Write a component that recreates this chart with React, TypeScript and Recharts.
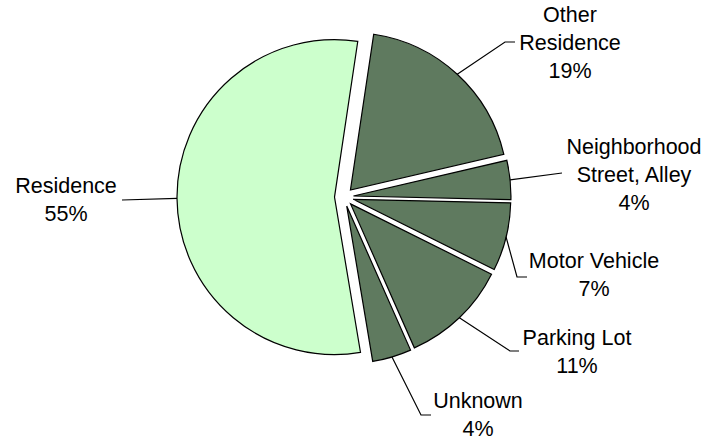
import React from 'react';
import { PieChart, Pie, Cell, Sector } from 'recharts';

const categories = ['Other\nResidence', 'Neighborhood\nStreet, Alley', 'Motor Vehicle', 'Parking Lot', 'Unknown', 'Residence'];
const shares = [19, 4, 7, 11, 4, 55];
const sliceColors = ['#5F7A5F', '#5F7A5F', '#5F7A5F', '#5F7A5F', '#5F7A5F', '#CCFFCC'];

// label placement (text centre x, first baseline y) and leader-line bend points
const labelTextX = [570, 634, 594, 577, 478, 66];
const labelTextY = [22, 154, 268, 345, 408, 193];
const leaderBends = [
  [[505, 42], [515, 42]],
  [[562, 173]],
  [[517, 277], [527, 277]],
  [[510, 351], [519, 351]],
  [[421, 415], [431, 415]],
  [[122, 200]],
];

const data = categories.map((name, i) => ({ name, value: shares[i] }));

const EXPLODE = 9.5;
const RAD = Math.PI / 180;

const renderShape = (props: any) => {
  const { cx, cy, midAngle } = props;
  const ox = cx + EXPLODE * Math.cos(-midAngle * RAD);
  const oy = cy + EXPLODE * Math.sin(-midAngle * RAD);
  return <Sector {...props} cx={ox} cy={oy} />;
};

const renderLabel = (props: any) => {
  const { cx, cy, midAngle, outerRadius, index, value, name } = props;
  const r = outerRadius + EXPLODE;
  const sx = cx + r * Math.cos(-midAngle * RAD);
  const sy = cy + r * Math.sin(-midAngle * RAD);
  const pts = [[sx, sy], ...leaderBends[index]].map((p) => p.join(',')).join(' ');
  const lines = [...String(name).split('\n'), `${value}%`];
  return (
    <g key={`lbl-${index}`}>
      <polyline points={pts} fill="none" stroke="#000" strokeWidth={1.2} />
      <text
        x={labelTextX[index]}
        y={labelTextY[index]}
        textAnchor="middle"
        fontFamily="'Liberation Sans', Arial, sans-serif"
        fontSize={21.5}
        fill="#000"
      >
        {lines.map((ln, i) => (
          <tspan key={i} x={labelTextX[index]} dy={i === 0 ? 0 : 28}>
            {ln}
          </tspan>
        ))}
      </text>
    </g>
  );
};

export default function App() {
  return (
    <div style={{ position: 'absolute', left: 0, top: 0, width: 720, height: 442, background: '#fff' }}>
      <PieChart width={720} height={442} margin={{ top: 0, right: 0, bottom: 0, left: 0 }}>
        <Pie
          data={data}
          dataKey="value"
          nameKey="name"
          cx={344}
          cy={197}
          outerRadius={157.5}
          startAngle={81.5}
          endAngle={-278.5}
          stroke="#000"
          strokeWidth={1.2}
          isAnimationActive={false}
          shape={renderShape}
          label={renderLabel}
          labelLine={false}
        >
          {data.map((d, i) => (
            <Cell key={d.name} fill={sliceColors[i]} />
          ))}
        </Pie>
      </PieChart>
    </div>
  );
}
